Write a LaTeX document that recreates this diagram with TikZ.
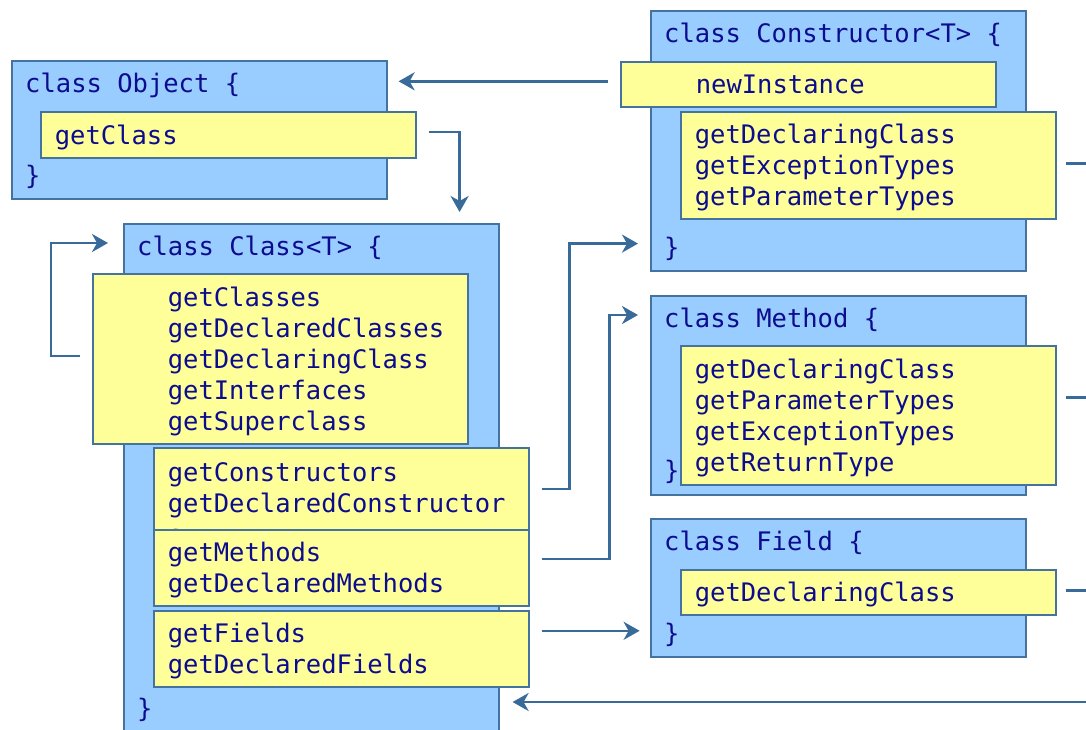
\documentclass[tikz,border=0pt]{standalone}
\usepackage{fontspec}
\setmonofont{DejaVu Sans Mono}
\usetikzlibrary{positioning,arrows.meta,calc}
\definecolor{clsblue}{HTML}{99CCFF}
\definecolor{edgeblue}{HTML}{44739F}
\definecolor{memyellow}{HTML}{FFFF99}
\definecolor{codenavy}{HTML}{0C0C8F}
\definecolor{wireblue}{HTML}{386A9A}

\begin{document}
\begin{tikzpicture}[
    x=1pt, y=-1pt,
    font=\ttfamily\fontsize{25.5}{31}\selectfont,
    cls/.style={rectangle, draw=edgeblue, fill=clsblue, line width=1.6pt, anchor=north west, minimum width=375pt, inner sep=0pt},
    mem/.style={rectangle, draw=edgeblue, fill=memyellow, line width=1.6pt, anchor=north west, text width=347pt, inner xsep=14pt, inner ysep=0pt, align=left, text=codenavy,
        execute at begin node={\rule{0pt}{27pt}}, execute at end node={\rule[-8pt]{0pt}{8pt}}},
    indent/.style={execute at begin node={\leftskip=61pt}},
    head/.style={anchor=base west, inner sep=0pt, text=codenavy},
    arr/.style={-{Stealth[length=16pt, width=18pt, inset=5pt]}, line width=2.5pt, draw=wireblue},
    wire/.style={line width=2.5pt, draw=wireblue}
]
\path[use as bounding box, fill=white] (0,0) rectangle (1086,729);
\clip (0,0) rectangle (1086,729);

% --- class Object ---
\node[cls, minimum height=138pt] (object) at (11,60) {};
\node[head] (objhead) at ([xshift=14pt, yshift=-32pt]object.north west) {class Object \{};
\node[head] (objend) at ([xshift=14pt, yshift=15pt]object.south west) {\}};
\node[mem, minimum height=46pt] (getcls) at (40,111) {getClass};

% --- class Class<T>, runs off the bottom ---
\node[cls, minimum height=508pt] (cls) at (123,223) {};
\node[head] (clshead) at ([xshift=14pt, yshift=-32pt]cls.north west) {class Class<T> \{};
\node[head] (clsend) at ([xshift=14pt, yshift=15pt]cls.south west) {\}};
\node[mem, indent, minimum height=170pt] (nested) at (92,273)
    {getClasses\\getDeclaredClasses\\getDeclaringClass\\getInterfaces\\getSuperclass};
\node[mem, minimum height=110pt] (ctors) at (153,447) {getConstructors\\getDeclaredConstructor\\s};
\node[mem, minimum height=76pt] (methods) at (153,529) {getMethods\\getDeclaredMethods};
\node[mem, minimum height=76pt] (fields) at (153,610) {getFields\\getDeclaredFields};

% --- class Constructor<T> ---
\node[cls, minimum height=260pt] (ctor) at (650,10) {};
\node[head] (ctorhead) at ([xshift=14pt, yshift=-32pt]ctor.north west) {class Constructor<T> \{};
\node[head] (ctorend) at ([xshift=14pt, yshift=15pt]ctor.south west) {\}};
\node[mem, indent, minimum height=45pt] (newinst) at (620,61) {newInstance};
\node[mem, minimum height=107pt] (ctordecl) at (680,111) {getDeclaringClass\\getExceptionTypes\\getParameterTypes};

% --- class Method ---
\node[cls, minimum height=199pt] (method) at (650,295) {};
\node[head] (methhead) at ([xshift=14pt, yshift=-32pt]method.north west) {class Method \{};
\node[head] (methend) at ([xshift=14pt, yshift=16pt]method.south west) {\}};
\node[mem, minimum height=139pt] (methdecl) at (680,345)
    {getDeclaringClass\\getParameterTypes\\getExceptionTypes\\getReturnType};

% --- class Field ---
\node[cls, minimum height=138pt] (field) at (650,518) {};
\node[head] (fldhead) at ([xshift=14pt, yshift=-32pt]field.north west) {class Field \{};
\node[head] (fldend) at ([xshift=14pt, yshift=15pt]field.south west) {\}};
\node[mem, minimum height=45pt] (flddecl) at (680,569) {getDeclaringClass};

% --- arrows between the classes ---
\draw[arr, shorten <=12pt, shorten >=11pt] ([yshift=3pt]newinst.west) -- ([yshift=3pt]newinst.west -| object.east);
\draw[arr, shorten <=12pt, shorten >=11pt] ([yshift=3pt]getcls.east) -| ([xshift=-40pt]cls.north east);
\draw[arr, shorten <=12pt, shorten >=15pt] ([yshift=3pt]nested.west) -- ++(-41pt,0) |- ([yshift=-20pt]cls.north west);
\draw[arr, shorten <=12pt, shorten >=12pt] ([yshift=14pt]ctors.east) -- ++(40pt,0) |- ([yshift=28pt]ctor.south west);
\draw[arr, shorten <=12pt, shorten >=12pt] ([yshift=9pt]methods.east) -- ++(80pt,0) |- ([yshift=-20pt]method.north west);
\draw[arr, shorten <=12pt, shorten >=12pt] ([yshift=18pt]fields.east) -- ++(122pt,0);

% --- getDeclaringClass back to Class, rail sits past the right edge ---
\coordinate (rail) at (1100,702);
\draw[wire, shorten <=9pt] ([yshift=2pt]ctordecl.east) -| (rail);
\draw[wire, shorten <=9pt] ([yshift=18pt]methdecl.east) -| (rail);
\draw[wire, shorten <=9pt] ([yshift=2pt]flddecl.east) -| (rail);
\draw[arr, shorten >=13pt] (rail) -- (rail -| cls.east);

\end{tikzpicture}
\end{document}
